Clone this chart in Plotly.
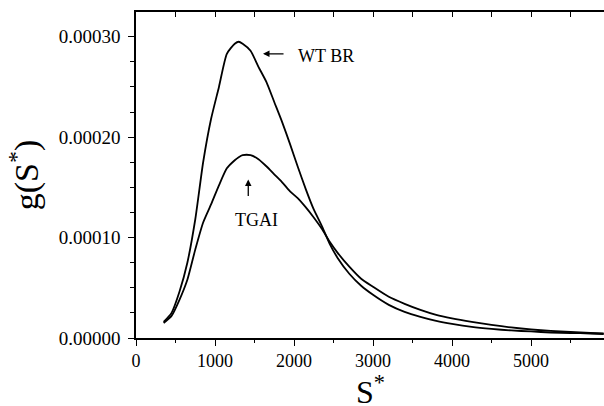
import plotly.graph_objects as go

# Sedimentation coefficient distribution data
s_star = [350, 450, 550, 650, 750, 850, 950, 1050, 1150, 1250, 1300, 1350, 1450,
          1550, 1650, 1750, 1850, 1950, 2050, 2150, 2250, 2350, 2450, 2550, 2700,
          2850, 3000, 3200, 3400, 3600, 3800, 4000, 4250, 4500, 4750, 5000, 5250,
          5500, 5750, 5920]

wt_br = [1.6, 2.5, 4.6, 7.5, 11.8, 17.5, 21.8, 25.0, 28.3, 29.3, 29.5, 29.3, 28.6,
         27.0, 25.5, 23.5, 21.5, 19.3, 17.0, 14.8, 12.8, 11.2, 9.4, 8.0, 6.4,
         5.2, 4.3, 3.3, 2.6, 2.1, 1.7, 1.4, 1.1, 0.9, 0.75, 0.65, 0.55,
         0.5, 0.45, 0.4]

tgai = [1.5, 2.2, 3.8, 5.8, 8.8, 11.5, 13.3, 15.2, 16.9, 17.7, 18.0, 18.2, 18.2,
        17.8, 17.1, 16.3, 15.5, 14.6, 13.9, 13.0, 12.0, 10.9, 9.6, 8.5, 7.1,
        5.9, 5.1, 4.1, 3.4, 2.8, 2.3, 1.95, 1.6, 1.3, 1.05, 0.85, 0.7,
        0.6, 0.5, 0.45]

scale = 1e-5
x_ticks = [0, 1000, 2000, 3000, 4000, 5000]
y_ticks = [0.0, 0.0001, 0.0002, 0.0003]

FONT = "Liberation Serif"

fig = go.Figure()
fig.add_trace(go.Scatter(x=s_star, y=[v * scale for v in wt_br], mode="lines",
                         line=dict(color="black", width=1.8, shape="spline", smoothing=0.6),
                         name="WT BR", showlegend=False))
fig.add_trace(go.Scatter(x=s_star, y=[v * scale for v in tgai], mode="lines",
                         line=dict(color="black", width=1.8, shape="spline", smoothing=0.6),
                         name="TGAI", showlegend=False))
# dummy trace for top axis
fig.add_trace(go.Scatter(x=[0], y=[0], xaxis="x2", mode="markers",
                         marker=dict(opacity=0), showlegend=False, hoverinfo="skip"))

fig.update_layout(
    width=604, height=406,
    margin=dict(l=136, r=0, t=12, b=68),
    paper_bgcolor="white", plot_bgcolor="white",
    font=dict(family=FONT, color="black", size=18),
    xaxis=dict(range=[0, 5924], tickvals=x_ticks, ticktext=[str(v) for v in x_ticks],
               ticks="outside", ticklen=6, tickwidth=1.3, tickcolor="black",
               minor=dict(dtick=500, ticks="outside", ticklen=3, tickwidth=1.3,
                          tickcolor="black"),
               showline=True, linecolor="black", linewidth=1.5,
               showgrid=False, zeroline=False, automargin=False,
               tickfont=dict(family=FONT, size=18)),
    xaxis2=dict(overlaying="x", side="top", matches="x", range=[0, 5924],
                dtick=500, tick0=0, ticks="inside", ticklen=5, tickwidth=1.3,
                tickcolor="black", showticklabels=False, showline=True,
                linecolor="black", linewidth=1.5, showgrid=False, zeroline=False),
    yaxis=dict(range=[0, 0.0003246], tickvals=y_ticks,
               ticktext=["0.00000", "0.00010", "0.00020", "0.00030"],
               ticks="outside", ticklen=6, tickwidth=1.3, tickcolor="black",
               minor=dict(dtick=0.000025, tick0=0, ticks="outside", ticklen=4,
                          tickwidth=1.3, tickcolor="black"),
               showline=True, linecolor="black", linewidth=1.5,
               showgrid=False, zeroline=False, ticklabelstandoff=4, automargin=False,
               tickfont=dict(family=FONT, size=19),
               title=dict(text="g(S<sup>*</sup>)", font=dict(family=FONT, size=34),
                          standoff=10)),
)

# X axis title as annotation (placed low, as in reference)
fig.add_annotation(x=0.5, y=0, xref="paper", yref="paper", xanchor="center",
                   yanchor="top", yshift=-30, text="S<sup>*</sup>", showarrow=False,
                   font=dict(family=FONT, size=32, color="black"))

# Arrows
fig.add_annotation(x=1608, y=0.000283, ax=22, ay=0, text="", showarrow=True,
                   arrowhead=2, arrowsize=1, arrowwidth=1.3, arrowcolor="black")
fig.add_annotation(x=2405, y=0.000281, text="WT BR", showarrow=False,
                   font=dict(family=FONT, size=18, color="black"))
fig.add_annotation(x=1421, y=0.0001577, ax=0, ay=18, text="", showarrow=True,
                   arrowhead=2, arrowsize=1, arrowwidth=1.3, arrowcolor="black")
fig.add_annotation(x=1519, y=0.0001179, text="TGAI", showarrow=False,
                   font=dict(family=FONT, size=18, color="black"))

fig.write_html("out.html", config={"displayModeBar": False},
               post_script="document.body.style.margin='0';document.body.style.overflow='hidden';")
